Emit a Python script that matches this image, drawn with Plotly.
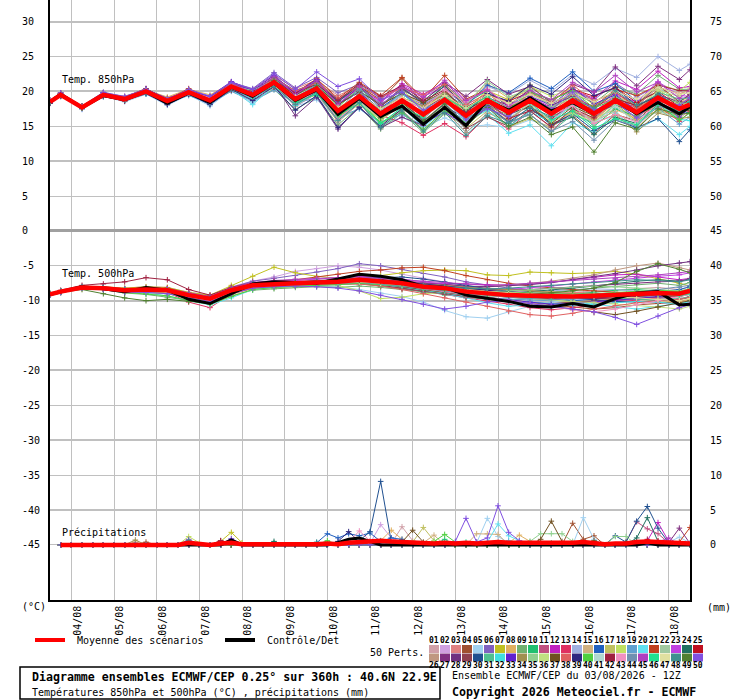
import pandas as pd
import plotly.graph_objects as go

# ECMWF ensemble diagram, 40.6N 22.9E, run 03/08/2026 12Z
start = pd.Timestamp("2026-08-03 12:00")

# lead times (h) of the temperature points and of the 6h precipitation amounts
t_hours = [0, 6, 18, 30, 42, 54, 66, 78, 90, 102, 114, 126, 138, 150, 162, 174,
           186, 198, 210, 222, 234, 246, 258, 270, 282, 294, 306, 318, 330, 342, 354, 360]
p_hours = list(range(6, 361, 6))

days = ["2026-08-%02d" % d for d in range(4, 19)]
day_labels = ["%02d/08" % d for d in range(4, 19)]

left_ticks = [30, 25, 20, 15, 10, 5, 0, -5, -10, -15, -20, -25, -30, -35, -40, -45]
right_ticks = [75, 70, 65, 60, 55, 50, 45, 40, 35, 30, 25, 20, 15, 10, 5, 0]

colors = ["#d0a0a8", "#d0a0e0", "#e08080", "#a05030", "#a0d0f0", "#8060c0", "#c0c020", "#e0b060", "#70b070", "#20c070",
          "#c05080", "#c020c0", "#e03060", "#a0b0e0", "#d0b080", "#2060c0", "#c0c060", "#c0e060", "#60a0d0", "#60e0f0",
          "#c04020", "#a0c8a0", "#c040e0", "#207060", "#c01020", "#c09880", "#803080", "#703080", "#904050", "#205090",
          "#50c090", "#40e0e0", "#6020d0", "#a09050", "#90d090", "#c0e080", "#705020", "#e06060", "#302880", "#50d040",
          "#b0d8d0", "#a02040", "#f090c0", "#7090b0", "#b040c0", "#20e090", "#e0e0a0", "#409090", "#508030", "#8050e0"]

# --- temperature 850 hPa (°C)
t850_mean = [18.5, 19.5, 17.7, 19.5, 18.9, 20.0, 18.6, 19.9, 18.7, 20.7, 19.5, 21.3, 18.9, 20.4, 17.2, 19.3,
             16.8, 18.7, 16.7, 18.8, 16.5, 18.7, 17.0, 18.7, 16.8, 18.7, 16.8, 18.7, 17.0, 19.1, 17.5, 18.1]
t850_ctrl = [18.5, 19.6, 17.7, 19.4, 18.8, 20.0, 18.3, 19.8, 18.4, 20.6, 19.3, 21.2, 18.7, 20.2, 16.7, 19.0,
             16.4, 17.9, 15.3, 17.7, 15.1, 18.7, 17.3, 19.1, 17.2, 18.4, 16.8, 18.7, 16.8, 18.4, 16.8, 17.8]
t850_members = [
    [18.6, 19.7, 17.7, 19.6, 19.1, 20.3, 19.0, 20.1, 19.2, 21.0, 20.1, 21.7, 19.9, 21.0, 18.4, 20.1, 17.3, 19.6, 17.8, 19.2, 16.0, 17.9, 15.8, 18.2, 17.2, 20.0, 18.6, 19.7, 17.2, 18.5, 16.1, 17.3],
    [18.4, 19.5, 17.8, 19.3, 18.9, 19.8, 18.3, 20.0, 18.5, 20.3, 19.0, 21.0, 17.8, 19.7, 16.7, 19.6, 17.6, 19.9, 18.3, 20.8, 18.0, 19.7, 17.6, 18.3, 15.8, 17.2, 16.0, 19.2, 18.4, 21.3, 19.1, 19.1],
    [18.7, 19.6, 17.6, 19.8, 19.0, 20.2, 19.1, 20.2, 18.9, 21.3, 20.3, 22.3, 20.4, 21.6, 19.4, 20.8, 18.6, 20.7, 17.9, 19.6, 16.8, 18.2, 16.2, 17.2, 14.8, 17.1, 15.8, 18.5, 17.8, 20.6, 19.7, 20.1],
    [18.5, 19.3, 17.8, 19.5, 18.7, 19.9, 18.8, 19.7, 18.3, 20.5, 19.8, 21.8, 19.7, 21.5, 18.8, 20.7, 18.8, 21.9, 18.2, 20.8, 17.8, 19.2, 16.7, 17.9, 15.4, 16.5, 14.0, 16.7, 15.8, 18.6, 17.9, 18.9],
    [18.3, 19.4, 17.4, 19.3, 18.5, 19.6, 18.0, 19.5, 17.9, 20.2, 18.3, 20.7, 17.9, 18.8, 16.0, 17.5, 15.2, 16.3, 14.9, 16.2, 14.9, 15.2, 14.8, 15.9, 14.9, 16.7, 15.3, 17.7, 16.4, 18.9, 18.0, 19.0],
    [18.6, 19.8, 17.9, 19.9, 19.2, 20.4, 18.8, 20.2, 19.2, 21.3, 20.4, 22.7, 20.5, 22.0, 19.8, 21.0, 19.0, 20.7, 18.2, 19.8, 17.1, 18.9, 16.6, 19.0, 17.6, 20.1, 18.8, 21.2, 19.2, 20.9, 18.5, 18.7],
    [18.5, 19.6, 17.9, 19.6, 18.9, 20.1, 18.5, 20.1, 18.7, 20.4, 19.3, 20.7, 18.6, 19.5, 16.8, 18.3, 15.3, 17.5, 16.2, 19.0, 17.4, 20.1, 18.8, 20.9, 18.3, 19.5, 17.0, 18.2, 15.8, 17.3, 16.5, 17.6],
    [18.7, 19.7, 17.8, 19.7, 19.3, 20.2, 19.2, 20.3, 19.5, 21.2, 19.9, 21.5, 19.2, 20.0, 16.4, 18.1, 16.0, 18.4, 17.2, 20.0, 18.4, 21.1, 19.0, 20.1, 17.7, 18.9, 16.2, 17.4, 16.1, 18.9, 18.1, 19.5],
    [18.4, 19.3, 17.7, 19.4, 19.0, 19.7, 18.6, 19.5, 18.4, 20.1, 18.7, 20.3, 17.4, 19.2, 15.2, 17.8, 14.6, 16.9, 14.1, 16.8, 15.0, 17.9, 16.6, 18.9, 17.4, 19.8, 18.3, 20.7, 19.6, 22.3, 20.3, 20.3],
    [18.6, 19.5, 17.7, 19.6, 18.8, 20.2, 18.4, 20.0, 19.0, 21.1, 19.7, 21.8, 19.6, 20.8, 18.2, 20.1, 18.0, 20.2, 18.7, 21.0, 18.3, 20.1, 17.8, 18.9, 16.4, 17.7, 15.0, 17.5, 16.4, 19.3, 18.3, 18.5],
    [18.5, 19.6, 17.8, 19.5, 19.1, 20.0, 18.9, 19.9, 18.9, 20.6, 19.9, 21.5, 18.3, 20.4, 16.9, 19.8, 17.0, 19.5, 18.1, 19.7, 16.7, 18.1, 15.6, 16.7, 14.3, 17.1, 16.0, 18.7, 17.7, 19.3, 17.0, 18.4],
    [18.3, 19.4, 17.5, 19.5, 18.8, 19.8, 18.7, 19.8, 18.8, 20.9, 19.1, 21.1, 19.3, 21.2, 18.7, 20.4, 18.6, 21.1, 19.6, 21.3, 18.5, 20.2, 18.0, 19.2, 17.7, 20.2, 19.0, 21.5, 20.3, 22.9, 20.5, 20.7],
    [18.6, 19.4, 17.7, 19.7, 18.9, 20.1, 18.3, 19.9, 18.2, 20.5, 18.9, 20.9, 18.1, 19.9, 16.0, 18.7, 16.6, 15.5, 13.7, 15.4, 13.5, 16.5, 14.6, 17.2, 16.3, 19.0, 17.8, 19.1, 16.5, 17.9, 15.7, 17.1],
    [18.5, 19.7, 17.8, 19.6, 19.2, 20.1, 18.9, 20.1, 19.1, 20.9, 20.0, 21.6, 19.7, 20.9, 18.3, 20.2, 17.2, 19.5, 18.2, 19.8, 18.3, 20.7, 19.6, 21.6, 20.0, 22.4, 21.0, 23.3, 22.0, 25.0, 23.0, 23.9],
    [18.4, 19.5, 17.8, 19.4, 18.9, 20.1, 18.4, 19.9, 18.6, 21.0, 19.6, 21.1, 18.5, 19.6, 16.1, 18.4, 15.2, 17.4, 15.8, 18.4, 16.8, 19.5, 18.3, 19.5, 17.1, 18.4, 15.8, 17.1, 14.8, 17.5, 16.7, 17.9],
    [18.7, 19.6, 17.9, 19.8, 19.0, 20.3, 18.7, 20.1, 19.0, 20.8, 20.0, 22.0, 20.1, 21.3, 18.8, 20.6, 17.6, 19.8, 17.2, 19.6, 17.9, 20.9, 19.8, 21.9, 20.4, 22.8, 20.0, 21.1, 18.6, 19.9, 17.1, 16.9],
    [18.5, 19.4, 17.6, 19.5, 18.7, 20.0, 18.5, 19.6, 18.7, 20.5, 19.5, 21.6, 18.7, 20.6, 16.7, 19.1, 15.8, 18.1, 15.3, 17.8, 14.7, 17.2, 14.9, 16.1, 14.8, 17.3, 16.0, 18.5, 17.5, 20.3, 18.1, 18.3],
    [18.6, 19.7, 17.7, 19.7, 19.0, 20.2, 18.9, 20.0, 18.9, 21.2, 19.7, 21.9, 19.3, 21.3, 17.7, 20.6, 17.8, 20.3, 17.5, 19.9, 16.9, 19.6, 18.4, 20.7, 19.3, 20.5, 18.0, 19.3, 18.2, 21.1, 20.1, 21.3],
    [18.4, 19.3, 17.6, 19.2, 18.8, 19.6, 18.4, 19.4, 18.3, 20.0, 18.6, 20.2, 18.3, 19.1, 16.3, 17.5, 15.6, 16.7, 15.1, 17.5, 15.9, 18.9, 17.8, 19.9, 18.4, 19.7, 17.2, 18.4, 16.1, 17.6, 15.3, 16.3],
    [18.3, 19.4, 17.5, 19.4, 18.6, 19.8, 18.2, 19.6, 18.1, 20.3, 18.1, 20.8, 18.0, 19.8, 15.8, 18.5, 15.3, 17.7, 14.9, 17.3, 14.1, 16.7, 14.0, 15.2, 12.2, 15.5, 14.2, 16.9, 14.5, 16.1, 13.8, 15.0],
    [18.7, 19.8, 17.8, 19.7, 19.2, 20.4, 18.8, 20.4, 19.0, 21.3, 19.9, 22.1, 19.8, 21.8, 19.0, 21.3, 19.4, 22.0, 18.9, 22.3, 18.9, 20.3, 17.8, 18.9, 16.5, 19.2, 17.8, 20.3, 19.4, 20.9, 18.5, 19.5],
    [18.5, 19.5, 17.6, 19.6, 18.9, 20.1, 18.6, 19.8, 18.8, 20.7, 19.2, 21.4, 18.6, 20.2, 16.6, 18.9, 15.9, 18.2, 15.5, 18.1, 15.5, 18.5, 17.3, 19.6, 18.0, 19.3, 16.8, 18.0, 15.6, 17.1, 16.3, 17.5],
    [18.4, 19.6, 17.7, 19.4, 19.1, 20.0, 18.8, 20.0, 18.7, 21.0, 20.1, 21.7, 19.9, 21.1, 18.6, 20.3, 18.4, 20.9, 19.3, 20.6, 17.7, 19.3, 17.1, 18.2, 15.8, 18.3, 17.0, 19.5, 18.5, 21.4, 19.4, 19.3],
    [18.6, 19.7, 17.9, 19.6, 18.9, 20.2, 18.5, 20.2, 18.9, 21.1, 19.8, 22.0, 19.4, 21.5, 18.5, 20.9, 18.0, 20.5, 18.3, 20.8, 17.7, 19.2, 16.8, 17.7, 15.2, 16.3, 13.8, 16.3, 15.4, 18.1, 17.3, 18.7],
    [18.4, 19.3, 17.6, 19.3, 18.6, 19.8, 18.2, 19.6, 18.5, 20.2, 19.2, 20.6, 18.5, 19.6, 17.0, 18.7, 17.2, 18.8, 17.6, 19.2, 17.7, 19.5, 18.6, 19.9, 18.8, 20.3, 19.3, 20.6, 18.4, 20.0, 17.8, 18.9],
    [18.5, 19.6, 17.7, 19.6, 18.8, 20.1, 18.7, 19.9, 18.5, 20.8, 19.3, 20.9, 17.9, 19.7, 15.6, 18.3, 14.8, 17.3, 14.5, 17.3, 14.1, 16.9, 15.8, 18.2, 17.0, 19.6, 17.2, 18.5, 16.1, 18.9, 18.0, 19.2],
    [18.6, 19.5, 17.9, 19.7, 19.0, 20.3, 18.8, 20.1, 19.2, 21.0, 20.2, 21.8, 19.5, 21.4, 18.0, 20.7, 17.8, 20.3, 18.6, 21.2, 19.3, 21.7, 19.6, 20.7, 18.4, 21.0, 19.9, 23.5, 20.8, 23.6, 21.7, 23.1],
    [18.3, 19.4, 17.6, 19.5, 18.7, 19.9, 18.3, 19.7, 18.2, 20.4, 19.1, 21.1, 16.5, 19.2, 14.6, 17.8, 14.8, 16.3, 15.1, 17.8, 16.2, 19.1, 18.0, 20.3, 18.0, 19.3, 16.8, 18.1, 16.8, 19.5, 18.5, 19.6],
    [18.5, 19.6, 17.6, 19.5, 19.0, 19.9, 18.6, 20.1, 18.7, 20.9, 19.6, 21.6, 19.4, 20.7, 18.1, 19.9, 17.1, 18.5, 15.9, 17.6, 14.7, 16.3, 15.0, 17.3, 16.0, 18.5, 17.4, 19.9, 17.8, 19.3, 17.0, 17.9],
    [18.6, 19.5, 17.8, 19.4, 19.0, 20.0, 18.4, 20.0, 18.9, 20.6, 19.9, 21.5, 18.6, 21.0, 16.7, 19.5, 16.2, 18.5, 15.7, 18.3, 15.3, 17.9, 15.6, 17.7, 15.2, 16.8, 14.4, 15.9, 14.8, 16.1, 12.8, 14.5],
    [18.5, 19.6, 17.8, 19.6, 18.9, 20.2, 18.7, 20.0, 19.0, 21.1, 19.7, 21.8, 19.2, 21.2, 17.8, 20.4, 18.2, 19.7, 17.2, 18.9, 16.1, 17.8, 15.5, 16.7, 14.2, 16.7, 15.5, 18.1, 17.1, 19.9, 18.9, 19.1],
    [18.4, 19.4, 17.7, 19.3, 18.8, 19.7, 18.5, 19.7, 18.3, 20.5, 18.9, 20.9, 18.0, 19.8, 16.8, 19.5, 17.4, 19.7, 17.2, 18.6, 15.7, 17.3, 15.0, 17.1, 15.6, 18.1, 16.8, 19.3, 16.8, 18.3, 16.0, 15.8],
    [18.7, 19.7, 17.8, 19.8, 19.1, 20.3, 19.0, 20.1, 19.3, 21.4, 20.1, 22.3, 19.7, 21.7, 18.2, 19.9, 17.0, 18.1, 15.5, 17.0, 15.2, 18.0, 17.0, 19.3, 18.0, 20.5, 18.2, 19.5, 17.2, 18.6, 16.3, 17.7],
    [18.5, 19.5, 17.8, 19.5, 18.9, 19.9, 18.7, 19.9, 18.6, 20.5, 19.5, 21.0, 19.1, 19.9, 17.6, 19.1, 17.6, 19.1, 17.9, 19.6, 16.8, 18.3, 16.0, 18.3, 17.0, 18.1, 15.4, 16.7, 14.2, 16.9, 16.1, 16.3],
    [18.6, 19.5, 17.7, 19.6, 19.1, 20.1, 18.6, 20.2, 18.8, 20.9, 20.1, 21.7, 19.2, 20.6, 16.8, 19.4, 16.0, 18.3, 16.5, 19.4, 18.0, 21.5, 19.2, 20.3, 17.8, 19.1, 16.6, 19.1, 18.0, 20.7, 18.3, 18.3],
    [18.4, 19.5, 17.6, 19.5, 18.8, 20.0, 18.4, 20.0, 18.6, 20.4, 19.3, 20.8, 18.7, 19.5, 16.7, 18.1, 16.0, 18.2, 16.6, 19.2, 17.4, 19.2, 17.0, 18.1, 15.6, 16.9, 15.6, 18.2, 17.3, 20.1, 19.3, 20.5],
    [18.5, 19.6, 17.7, 19.6, 19.0, 20.2, 18.6, 20.0, 18.9, 20.8, 19.8, 21.5, 19.5, 20.8, 18.1, 20.0, 18.1, 19.7, 18.4, 20.0, 17.3, 19.0, 16.7, 17.9, 15.4, 17.8, 16.5, 19.0, 17.9, 19.5, 17.3, 17.3],
    [18.6, 19.6, 17.9, 19.5, 19.1, 20.1, 18.9, 19.9, 18.9, 21.1, 19.6, 21.9, 20.1, 21.2, 19.0, 20.7, 19.2, 20.5, 19.5, 21.0, 18.1, 19.7, 17.4, 19.7, 18.4, 20.9, 18.6, 19.9, 17.6, 19.1, 16.9, 17.9],
    [18.3, 19.3, 17.6, 19.3, 18.7, 19.7, 18.1, 19.6, 18.1, 20.3, 18.7, 20.7, 17.3, 19.4, 14.8, 17.7, 15.0, 17.5, 16.1, 18.8, 17.0, 19.7, 18.6, 20.9, 19.6, 22.1, 19.4, 20.5, 18.0, 19.3, 16.9, 18.1],
    [18.5, 19.6, 17.7, 19.6, 18.9, 20.1, 18.5, 19.9, 18.8, 20.6, 19.5, 21.5, 18.5, 20.3, 16.3, 18.7, 15.5, 17.0, 14.5, 17.2, 15.5, 18.3, 17.4, 19.9, 18.8, 20.1, 17.6, 18.9, 16.6, 18.1, 15.9, 16.9],
    [18.6, 19.6, 17.8, 19.7, 19.0, 20.2, 18.7, 20.1, 18.7, 20.9, 19.7, 21.4, 19.3, 20.9, 17.3, 19.6, 16.5, 18.7, 16.2, 18.6, 15.8, 18.4, 16.2, 18.2, 15.8, 18.1, 15.5, 17.9, 15.4, 18.0, 16.9, 17.8],
    [18.4, 19.5, 17.7, 19.4, 18.9, 19.9, 18.7, 19.7, 18.9, 20.5, 20.0, 21.5, 19.8, 21.0, 18.7, 21.1, 19.3, 20.8, 18.7, 20.2, 17.1, 18.5, 16.1, 17.2, 14.9, 17.5, 16.2, 18.9, 18.0, 20.9, 20.1, 20.1],
    [18.6, 19.7, 17.7, 19.6, 19.1, 20.0, 18.8, 20.0, 19.1, 20.8, 19.5, 21.1, 18.2, 20.0, 16.0, 18.6, 16.4, 18.9, 17.5, 20.2, 18.5, 20.3, 18.0, 19.1, 16.6, 17.9, 15.4, 16.7, 15.6, 18.3, 17.4, 18.6],
    [18.5, 19.4, 17.8, 19.5, 18.8, 20.1, 18.4, 20.0, 18.4, 20.9, 19.2, 21.6, 19.0, 21.0, 17.4, 20.2, 17.3, 19.9, 17.5, 19.0, 16.1, 17.7, 15.5, 16.7, 14.3, 15.7, 13.0, 15.9, 15.0, 17.9, 17.1, 18.5],
    [18.4, 19.6, 17.6, 19.7, 18.9, 20.2, 18.6, 20.2, 18.8, 21.2, 19.8, 22.1, 19.5, 21.6, 18.1, 20.8, 18.0, 20.6, 19.1, 21.6, 18.7, 20.2, 17.9, 20.1, 18.8, 21.3, 19.9, 22.3, 19.9, 21.3, 19.0, 20.2],
    [18.5, 19.5, 17.8, 19.5, 19.0, 20.0, 18.8, 19.9, 18.8, 20.7, 19.7, 21.1, 18.4, 19.6, 16.6, 18.3, 15.4, 17.7, 16.3, 19.1, 17.5, 19.3, 17.2, 18.4, 15.9, 17.2, 14.7, 16.1, 15.2, 18.1, 17.3, 18.5],
    [18.6, 19.5, 17.7, 19.6, 18.9, 20.1, 18.7, 19.8, 18.7, 20.8, 19.4, 21.3, 19.2, 20.5, 17.7, 19.5, 17.5, 19.1, 17.6, 19.4, 17.6, 19.5, 18.3, 19.6, 18.3, 19.8, 18.5, 20.0, 18.9, 20.6, 19.6, 19.8],
    [18.4, 19.4, 17.7, 19.4, 18.8, 19.8, 18.5, 19.8, 18.4, 20.3, 19.3, 20.7, 18.1, 19.9, 15.8, 18.4, 14.8, 17.2, 14.3, 17.0, 13.7, 16.5, 15.4, 17.7, 16.4, 18.9, 17.6, 20.1, 18.0, 19.5, 17.3, 18.4],
    [18.5, 19.6, 17.6, 19.5, 19.0, 20.0, 18.5, 20.0, 18.7, 20.8, 19.3, 21.6, 18.8, 20.8, 16.9, 19.5, 16.2, 18.4, 15.7, 18.2, 15.1, 17.7, 15.0, 16.3, 13.8, 14.9, 11.3, 15.5, 14.6, 17.5, 16.7, 16.9],
    [18.7, 19.8, 17.8, 19.8, 19.3, 20.3, 18.8, 20.3, 19.3, 21.3, 20.3, 22.5, 20.3, 22.8, 20.7, 21.8, 18.8, 19.9, 17.3, 18.8, 15.9, 17.5, 16.4, 18.7, 17.4, 19.9, 17.3, 18.5, 16.2, 18.9, 18.0, 19.1],
]

# --- temperature 500 hPa (°C)
t500_mean = [-9.1, -8.7, -8.1, -8.2, -8.5, -8.4, -8.5, -9.2, -9.7, -8.5, -7.8, -7.6, -7.5, -7.4, -7.3, -7.0,
             -7.3, -7.5, -8.0, -8.2, -8.7, -9.0, -9.2, -9.3, -9.4, -9.4, -9.3, -9.2, -9.0, -8.9, -9.0, -8.6]
t500_ctrl = [-9.1, -8.7, -8.0, -8.3, -8.7, -8.1, -8.5, -9.8, -10.4, -9.0, -7.6, -7.3, -7.4, -7.5, -6.9, -6.2,
             -6.5, -7.0, -8.0, -8.1, -9.2, -9.7, -10.1, -10.8, -10.9, -10.4, -10.9, -9.7, -8.9, -8.7, -10.6, -10.5]
t500_members = [
    [-9.0, -8.6, -8.0, -8.0, -8.3, -8.1, -8.2, -9.0, -9.4, -8.2, -7.5, -7.3, -7.2, -7.0, -6.8, -6.6, -6.9, -7.2, -7.6, -7.9, -8.3, -8.6, -8.8, -8.9, -9.0, -8.8, -8.6, -8.5, -8.3, -8.1, -8.4, -8.0],
    [-9.1, -8.6, -8.1, -8.1, -8.2, -8.0, -8.1, -8.8, -9.2, -8.0, -7.2, -6.6, -5.8, -5.4, -5.0, -5.2, -5.6, -6.2, -6.8, -7.4, -7.9, -8.2, -8.6, -8.8, -9.1, -9.4, -9.6, -9.8, -10.0, -10.3, -10.6, -10.2],
    [-9.2, -8.8, -8.2, -8.3, -8.7, -8.7, -8.9, -9.6, -10.1, -8.9, -8.1, -7.9, -7.9, -7.8, -7.8, -7.6, -7.9, -8.0, -8.4, -8.5, -8.8, -9.0, -9.1, -9.0, -8.9, -8.8, -8.9, -9.1, -9.4, -9.7, -9.9, -9.5],
    [-9.1, -8.7, -8.1, -8.3, -8.6, -8.5, -8.6, -9.3, -9.9, -8.7, -7.9, -7.8, -7.7, -7.6, -7.4, -7.2, -7.4, -7.6, -8.1, -8.5, -9.0, -9.5, -9.9, -10.3, -10.6, -10.9, -11.2, -11.0, -10.6, -10.4, -10.1, -9.8],
    [-9.0, -8.6, -8.0, -8.2, -8.5, -8.5, -8.6, -9.4, -9.8, -8.7, -8.0, -7.9, -7.8, -7.9, -8.0, -8.4, -8.9, -9.4, -10.2, -11.4, -12.3, -12.5, -11.6, -10.8, -10.2, -9.9, -9.6, -9.4, -9.2, -9.1, -9.3, -9.0],
    [-9.1, -8.7, -8.1, -8.1, -8.4, -8.3, -8.3, -8.9, -9.4, -8.1, -7.2, -6.8, -6.4, -5.9, -5.4, -4.7, -5.0, -5.5, -6.1, -6.6, -7.3, -7.8, -8.2, -8.5, -8.8, -9.0, -9.2, -9.0, -8.8, -8.6, -8.7, -8.3],
    [-9.0, -8.6, -8.0, -8.0, -8.2, -8.0, -8.1, -8.8, -9.2, -7.8, -6.5, -5.2, -6.0, -6.5, -6.8, -6.6, -6.4, -6.0, -5.7, -5.6, -5.7, -6.3, -6.4, -5.9, -6.0, -6.1, -6.0, -5.8, -6.2, -6.8, -7.5, -7.9],
    [-9.2, -8.8, -8.3, -8.4, -8.8, -8.8, -9.0, -9.7, -10.2, -9.1, -8.3, -8.2, -8.0, -7.7, -7.5, -7.3, -7.5, -7.8, -8.1, -8.1, -8.3, -8.5, -8.6, -8.9, -9.2, -9.4, -9.5, -9.7, -9.8, -10.0, -10.2, -9.8],
    [-9.1, -8.7, -8.2, -8.4, -8.9, -9.1, -9.5, -10.0, -10.4, -9.3, -8.5, -8.3, -8.1, -8.0, -8.1, -7.9, -8.1, -8.4, -8.7, -8.8, -9.1, -9.3, -9.2, -9.0, -8.8, -8.5, -8.2, -8.0, -7.7, -7.5, -7.8, -7.4],
    [-9.0, -8.6, -8.0, -8.1, -8.3, -8.2, -8.3, -9.1, -9.6, -8.4, -7.6, -7.4, -7.3, -7.3, -7.4, -7.5, -7.9, -8.3, -8.8, -9.2, -9.5, -9.8, -9.9, -9.7, -9.4, -9.0, -8.7, -8.5, -8.4, -8.6, -8.9, -8.5],
    [-9.1, -8.7, -8.1, -8.2, -8.6, -8.4, -8.5, -9.2, -9.8, -8.6, -7.8, -7.6, -7.4, -7.2, -7.0, -6.8, -7.0, -7.1, -7.4, -7.6, -8.0, -8.4, -8.9, -9.4, -9.8, -10.1, -10.3, -10.1, -9.8, -9.5, -9.2, -9.0],
    [-9.2, -8.8, -8.2, -8.2, -8.4, -8.3, -8.4, -9.0, -9.5, -8.3, -7.7, -7.5, -7.5, -7.5, -7.3, -7.1, -7.2, -7.3, -7.6, -7.5, -7.6, -7.7, -7.8, -7.6, -7.4, -7.0, -6.6, -6.3, -6.2, -6.6, -7.0, -6.8],
    [-9.1, -8.7, -8.2, -8.3, -8.7, -8.7, -8.8, -10.2, -11.0, -9.0, -8.2, -8.0, -7.8, -7.7, -7.6, -7.5, -7.8, -8.2, -8.7, -9.1, -9.6, -10.0, -10.5, -11.0, -11.3, -11.0, -10.6, -10.2, -9.9, -9.6, -9.4, -9.1],
    [-9.0, -8.6, -8.0, -8.1, -8.4, -8.3, -8.4, -9.1, -9.5, -8.3, -7.6, -7.4, -7.4, -7.3, -7.2, -7.0, -7.2, -7.4, -7.8, -8.1, -8.5, -8.8, -8.9, -8.8, -8.6, -8.4, -8.3, -8.4, -8.6, -8.8, -9.1, -8.8],
    [-9.1, -8.7, -8.1, -8.2, -8.5, -8.6, -8.8, -9.5, -9.9, -8.7, -7.9, -7.8, -7.6, -7.6, -7.5, -7.2, -7.4, -7.5, -7.8, -7.9, -8.1, -8.2, -8.3, -8.5, -8.7, -8.9, -9.2, -9.5, -9.6, -9.4, -9.2, -9.0],
    [-9.2, -8.8, -8.2, -8.3, -8.6, -8.5, -8.7, -9.3, -9.7, -8.5, -7.8, -7.6, -7.6, -7.4, -7.3, -7.1, -7.4, -7.7, -8.3, -8.6, -9.0, -9.2, -9.5, -9.7, -9.9, -10.0, -9.8, -9.5, -9.1, -8.7, -8.4, -8.0],
    [-9.1, -8.7, -8.1, -8.2, -8.5, -8.4, -8.6, -9.3, -9.8, -8.6, -7.7, -7.5, -7.3, -7.2, -7.1, -7.2, -7.6, -8.0, -8.4, -8.7, -9.0, -9.1, -9.3, -9.6, -9.9, -10.2, -10.0, -9.7, -9.5, -9.2, -9.0, -8.7],
    [-9.0, -8.6, -8.0, -8.1, -8.3, -8.2, -8.3, -9.0, -9.6, -8.4, -7.5, -7.3, -7.2, -7.4, -7.8, -8.6, -9.7, -9.5, -9.0, -8.8, -8.7, -8.9, -9.0, -9.2, -9.3, -9.5, -9.3, -9.0, -8.7, -8.5, -8.6, -8.3],
    [-9.1, -8.7, -8.1, -8.2, -8.5, -8.5, -8.6, -9.3, -9.7, -8.5, -7.7, -7.6, -7.6, -7.5, -7.5, -7.4, -7.7, -8.1, -8.6, -9.0, -9.4, -9.6, -9.8, -9.9, -10.0, -9.8, -9.5, -9.3, -9.3, -9.5, -9.8, -9.4],
    [-9.1, -8.8, -8.2, -8.4, -8.8, -8.9, -9.3, -10.0, -10.6, -9.6, -8.4, -8.1, -7.9, -7.8, -7.7, -7.5, -7.7, -8.0, -8.5, -9.0, -9.6, -10.3, -10.8, -10.6, -10.4, -10.2, -10.5, -10.9, -11.2, -10.8, -10.4, -10.0],
    [-9.0, -8.6, -8.0, -8.0, -8.3, -8.2, -8.2, -8.9, -9.4, -8.2, -7.5, -7.2, -7.0, -6.6, -6.2, -5.8, -5.6, -5.3, -5.2, -5.7, -6.4, -7.0, -7.5, -7.9, -8.2, -8.4, -8.6, -8.8, -8.9, -9.1, -9.3, -9.0],
    [-9.1, -8.7, -8.1, -8.2, -8.6, -8.5, -8.6, -9.2, -9.7, -8.6, -7.9, -7.7, -7.6, -7.6, -7.5, -7.3, -7.5, -7.8, -8.2, -8.4, -8.6, -8.8, -9.0, -9.2, -9.3, -9.2, -9.0, -8.9, -8.7, -8.6, -8.8, -8.5],
    [-9.1, -8.6, -8.0, -8.1, -8.4, -8.3, -8.4, -9.0, -9.6, -8.4, -7.6, -7.3, -7.1, -6.9, -6.7, -6.5, -6.7, -6.9, -7.3, -7.6, -8.0, -8.3, -8.4, -8.2, -7.9, -7.6, -7.3, -7.0, -6.7, -6.5, -6.3, -6.0],
    [-9.2, -8.8, -8.2, -8.3, -8.6, -8.6, -8.7, -9.4, -9.9, -8.8, -8.0, -7.8, -7.7, -7.6, -7.5, -7.4, -7.6, -7.9, -8.2, -8.4, -8.7, -8.8, -8.9, -8.7, -8.5, -8.2, -7.9, -7.5, -7.2, -7.0, -7.2, -6.9],
    [-9.1, -8.7, -8.1, -8.2, -8.5, -8.4, -8.5, -9.2, -9.8, -8.6, -7.8, -7.6, -7.5, -7.4, -7.3, -7.1, -7.3, -7.6, -8.0, -8.3, -8.8, -9.2, -9.5, -9.6, -9.7, -9.6, -9.5, -9.3, -9.1, -8.9, -8.8, -8.5],
    [-9.0, -8.6, -8.1, -8.2, -8.5, -8.4, -8.6, -9.3, -9.8, -8.6, -7.8, -7.6, -7.5, -7.6, -7.5, -7.3, -7.5, -7.7, -8.0, -8.0, -8.1, -8.0, -7.8, -7.5, -7.2, -6.8, -6.3, -5.6, -5.0, -4.6, -5.2, -5.6],
    [-9.1, -8.7, -8.1, -8.2, -8.5, -8.4, -8.5, -9.1, -9.6, -8.4, -7.6, -7.5, -7.3, -7.3, -7.2, -7.0, -7.2, -7.4, -7.7, -7.9, -8.2, -8.4, -8.5, -8.4, -8.2, -8.0, -7.8, -7.7, -7.5, -7.3, -7.2, -6.9],
    [-9.0, -8.6, -8.0, -8.1, -8.4, -8.3, -8.4, -9.1, -9.6, -8.5, -7.7, -7.4, -7.3, -7.2, -7.0, -6.9, -7.1, -7.3, -7.6, -7.7, -7.9, -8.0, -7.9, -7.7, -7.4, -7.0, -6.6, -6.1, -5.6, -5.0, -4.6, -4.4],
    [-9.2, -8.8, -8.2, -8.3, -8.6, -8.6, -8.8, -9.5, -10.0, -8.8, -8.0, -7.8, -7.7, -7.6, -7.6, -7.5, -7.8, -8.2, -8.7, -9.1, -9.5, -9.8, -10.1, -10.3, -10.4, -10.2, -10.0, -9.8, -9.6, -9.4, -9.3, -9.0],
    [-9.1, -8.7, -8.1, -8.2, -8.5, -8.5, -8.6, -9.2, -9.7, -8.5, -7.7, -7.5, -7.3, -7.2, -7.0, -6.8, -6.7, -6.6, -6.9, -7.3, -7.8, -8.3, -8.7, -9.0, -9.3, -9.6, -9.9, -10.1, -10.2, -10.0, -9.8, -9.5],
    [-9.1, -8.7, -8.1, -8.2, -8.5, -8.5, -8.6, -9.3, -9.8, -8.6, -7.8, -7.6, -7.5, -7.5, -7.4, -7.3, -7.5, -7.7, -8.0, -8.2, -8.5, -8.8, -9.0, -9.1, -9.2, -9.3, -9.4, -9.6, -9.8, -9.9, -9.7, -9.4],
    [-9.0, -8.6, -8.0, -8.1, -8.4, -8.3, -8.5, -9.2, -9.8, -8.7, -7.9, -7.7, -7.6, -7.6, -7.5, -7.4, -7.7, -8.0, -8.5, -8.9, -9.3, -9.7, -10.0, -10.2, -10.4, -10.6, -10.5, -10.3, -10.1, -10.2, -10.5, -10.1],
    [-9.1, -8.7, -8.1, -8.2, -8.4, -8.4, -8.5, -9.1, -9.6, -8.4, -7.7, -7.6, -7.5, -7.4, -7.2, -7.0, -7.2, -7.6, -8.2, -8.7, -9.2, -9.6, -9.9, -10.2, -10.5, -10.4, -10.2, -10.0, -9.7, -9.4, -9.1, -8.8],
    [-9.2, -8.8, -8.2, -8.3, -8.7, -8.7, -8.8, -9.4, -9.9, -8.7, -7.9, -7.7, -7.6, -7.5, -7.4, -7.2, -7.3, -7.4, -7.6, -7.8, -8.1, -8.3, -8.4, -8.6, -8.8, -9.0, -9.2, -9.4, -9.3, -9.1, -8.9, -8.6],
    [-9.1, -8.7, -8.1, -8.3, -8.7, -8.8, -9.0, -9.6, -10.0, -8.8, -8.0, -7.8, -7.7, -7.7, -7.6, -7.5, -7.6, -7.8, -8.1, -8.3, -8.6, -8.7, -8.6, -8.4, -8.2, -8.0, -7.9, -8.0, -8.2, -8.4, -8.6, -8.3],
    [-9.0, -8.6, -8.1, -8.2, -8.5, -8.4, -8.5, -9.2, -9.7, -8.5, -7.7, -7.5, -7.4, -7.3, -7.2, -7.1, -7.4, -7.8, -8.3, -8.6, -9.0, -9.3, -9.5, -9.6, -9.8, -10.0, -10.2, -10.4, -10.6, -10.9, -11.2, -10.8],
    [-9.1, -8.7, -8.1, -8.2, -8.6, -8.5, -8.7, -9.4, -9.9, -8.7, -7.9, -7.7, -7.6, -7.5, -7.4, -7.3, -7.6, -8.0, -8.5, -8.9, -9.3, -9.7, -10.1, -10.5, -10.9, -11.3, -11.7, -12.0, -11.5, -10.9, -10.4, -10.0],
    [-9.2, -8.8, -8.2, -8.3, -8.7, -8.6, -8.7, -9.4, -10.0, -8.9, -8.0, -7.8, -7.7, -7.7, -7.6, -7.6, -7.9, -8.4, -9.0, -9.6, -10.2, -10.8, -11.5, -12.0, -12.2, -11.8, -11.2, -10.7, -10.3, -10.0, -9.8, -9.5],
    [-9.1, -8.7, -8.1, -8.2, -8.5, -8.3, -8.4, -9.1, -9.6, -8.4, -7.6, -7.4, -7.3, -7.2, -7.1, -6.9, -7.0, -7.3, -7.7, -8.0, -8.3, -8.6, -8.8, -9.0, -9.2, -9.4, -9.6, -9.5, -9.3, -9.1, -8.9, -8.6],
    [-9.0, -8.6, -8.1, -8.3, -8.8, -9.0, -9.3, -10.0, -10.5, -9.4, -8.4, -8.1, -7.9, -7.8, -7.7, -7.5, -7.7, -7.9, -8.2, -8.4, -8.6, -8.7, -8.8, -8.9, -9.0, -9.1, -9.0, -8.8, -8.6, -8.5, -8.7, -8.4],
    [-9.1, -8.7, -8.1, -8.2, -8.5, -8.4, -8.5, -9.2, -9.7, -8.5, -7.8, -7.6, -7.5, -7.4, -7.3, -7.1, -7.3, -7.6, -8.0, -8.3, -8.7, -9.0, -9.2, -9.3, -9.3, -9.2, -9.1, -9.0, -9.0, -9.1, -9.2, -8.9],
    [-9.0, -8.5, -7.8, -7.6, -7.3, -6.7, -7.0, -8.4, -9.2, -8.1, -7.4, -7.3, -7.3, -7.2, -7.2, -7.0, -7.2, -7.5, -7.9, -8.1, -8.5, -8.8, -9.1, -9.3, -9.5, -9.6, -9.7, -9.6, -9.4, -9.2, -9.0, -8.7],
    [-9.1, -8.7, -8.1, -8.2, -8.5, -8.5, -8.6, -9.3, -9.8, -8.6, -7.8, -7.6, -7.4, -7.3, -7.3, -7.2, -7.5, -7.8, -8.3, -8.7, -9.2, -9.6, -10.0, -10.4, -10.8, -11.3, -11.6, -11.2, -10.6, -10.0, -9.5, -9.1],
    [-9.2, -8.8, -8.2, -8.3, -8.6, -8.6, -8.7, -9.4, -9.9, -8.8, -8.0, -7.8, -7.7, -7.6, -7.6, -7.4, -7.6, -7.9, -8.3, -8.6, -9.0, -9.3, -9.5, -9.7, -9.8, -9.7, -9.5, -9.2, -8.8, -8.4, -8.1, -7.8],
    [-9.0, -8.6, -8.0, -8.1, -8.3, -8.2, -8.3, -8.9, -9.4, -8.2, -7.4, -7.1, -6.9, -6.8, -6.7, -6.6, -6.8, -7.0, -7.2, -7.4, -7.6, -7.8, -7.7, -7.5, -7.3, -7.1, -6.9, -6.8, -6.6, -6.3, -6.0, -5.8],
    [-9.1, -8.7, -8.1, -8.2, -8.5, -8.5, -8.6, -9.3, -9.8, -8.6, -7.8, -7.6, -7.5, -7.5, -7.4, -7.3, -7.5, -7.8, -8.2, -8.5, -8.8, -9.1, -9.3, -9.4, -9.5, -9.4, -9.2, -9.1, -9.0, -9.1, -9.3, -9.0],
    [-9.1, -8.7, -8.2, -8.3, -8.6, -8.6, -8.8, -9.5, -10.0, -8.8, -8.0, -7.8, -7.6, -7.5, -7.4, -7.3, -7.5, -7.7, -8.0, -8.2, -8.5, -8.7, -8.9, -9.0, -9.1, -9.2, -9.3, -9.4, -9.6, -9.8, -10.0, -9.7],
    [-9.0, -8.6, -8.0, -8.1, -8.4, -8.3, -8.5, -9.1, -9.6, -8.4, -7.6, -7.4, -7.3, -7.2, -7.1, -7.0, -7.2, -7.5, -7.8, -8.0, -8.2, -8.3, -8.2, -8.0, -7.8, -7.6, -7.4, -7.2, -7.0, -7.1, -7.3, -7.0],
    [-9.1, -8.8, -8.4, -9.0, -9.6, -10.0, -9.8, -10.1, -10.3, -9.0, -7.9, -7.6, -7.4, -7.4, -7.3, -7.1, -7.3, -7.6, -8.0, -8.3, -8.7, -9.0, -9.2, -9.1, -8.9, -8.6, -8.2, -7.4, -5.8, -4.7, -5.5, -6.0],
    [-9.2, -8.8, -8.2, -8.4, -8.8, -8.8, -9.0, -9.6, -10.1, -9.0, -8.2, -8.0, -7.9, -8.0, -8.2, -8.6, -9.2, -9.8, -10.5, -11.2, -10.8, -10.2, -10.0, -10.4, -10.8, -11.2, -11.6, -12.4, -13.4, -12.2, -11.0, -10.6],
]

# --- precipitation, 6-hourly amounts (mm)
rr_mean = [0, 0, 0, 0, 0, 0, .05, .1, .1, .05, 0, 0, .3, .2, 0, .2, .3, .1, .1, 0, .1, 0, 0, 0, .1, .2, .1, .3, .4, .4,
           .6, .5, .4, .3, .3, .2, .3, .2, .3, .2, .3, .4, .3, .3, .2, .2, .3, .2, .3, .4, .2, .1, .2, .2, .4, .5, .4, .3, .2, .2]
rr_ctrl = [0, 0, 0, 0, 0, 0, 0, 0, 0, 0, 0, 0, 0, 0, 0, 0, .7, 0, 0, 0, 0, 0, 0, 0, 0, 0, .3, .8, 1.0, .5,
           0, 0, 0, 0, 0, 0, 0, 0, 0, 0, 0, 0, 0, 0, 0, 0, 0, 0, 0, 0, 0, 0, 0, 0, 0, .3, 0, 0, 0, 0]
rr_members = [
    [0, 0, 0, 0, 0, 0, 0, 0, 0, 0, 0, 0, 0, 0, 0, 0, 0, 0, 0, 0, 0, 0, 0, 0, 0, 0, 0, 0, .3, 0, 0, .2, 2.6, .6, 0, 0, 0, 0, 0, 0, 0, 0, 0, 0, 0, 0, 0, 0, 0, 0, 0, 0, 0, 0, 0, 0, 0, 0, 0, 0],
    [0, 0, 0, 0, 0, 0, 0, 0, 0, 0, 0, 0, 0, 0, 0, 0, 0, 0, 0, 0, 0, 0, 0, 0, 0, 0, 0, 0, 0, .2, 2.9, 1.0, .4, 0, 0, 0, 0, 0, 0, 0, 0, 0, 0, 0, 0, 0, 0, 0, 0, 0, 0, 0, 0, 0, 0, .3, 0, 0, 0, 0],
    [0, 0, 0, 0, 0, 0, 0, 0, 0, 0, 0, 0, 0, 0, 0, 0, 0, 0, 0, 0, 0, 0, 0, 0, 0, 0, 0, 0, 0, .5, .2, 0, 0, 0, 0, 0, 0, 0, 0, 0, 0, .4, 0, 0, 0, 0, 0, 0, 0, 0, 0, 0, 0, 0, .6, .2, 0, 0, 0, 0],
    [0, 0, 0, 0, 0, 0, 0, 0, .4, 0, 0, 0, 0, 0, 0, 0, 0, 0, 0, 0, 0, 0, 0, 0, 0, 0, 0, 0, 0, 0, 0, 0, 0, 0, 0, 0, 0, 0, 0, 0, 0, 0, 0, 0, 0, 0, 0, 0, 3.1, .8, 1.3, 0, 0, 0, 0, 0, 0, 0, 0, 0],
    [0, 0, 0, 0, 0, 0, 0, 0, 0, 0, 0, 0, 0, 0, 0, 0, 0, 0, 0, 0, 0, 0, 0, 0, 0, 0, 0, 0, 0, 0, 0, 0, 0, 0, 0, 0, 0, 0, 0, .3, 3.8, 1.2, .3, 0, 0, 0, 0, 0, 0, 3.9, .8, 0, 0, 0, 0, 0, 0, .4, 1.1, .3],
    [0, 0, 0, 0, 0, 0, 0, 0, 0, 0, 0, 0, 0, 0, 0, 0, .8, 0, 0, 0, 0, 0, 0, 0, 0, 0, 0, 0, 0, .4, 0, 0, 0, 0, 0, 0, 0, 0, 0, 0, 0, 0, 0, 0, 0, 0, 0, 0, 0, 0, 0, 0, 0, 0, 0, 0, 0, 0, 0, 0],
    [0, 0, 0, 0, 0, 0, 0, 0, 0, 0, 0, 0, 0, 0, 0, .5, 1.8, .3, 0, 0, 0, 0, 0, 0, 0, 0, 0, 0, 0, 0, 0, 0, 0, 0, 0, 0, 0, 0, 0, 0, 0, 0, 0, 0, 0, 0, 0, 0, 0, 0, 0, 0, 0, 0, 0, 0, 0, 0, 0, 0],
    [0, 0, 0, 0, 0, 0, 0, .3, 0, 0, 0, 0, 0, 0, 0, 0, 0, 0, 0, 0, 0, 0, 0, 0, 0, 0, 0, 0, 0, 0, .6, 2.1, .8, 0, 0, 0, 0, 0, 0, .4, 0, 0, .3, 1.4, .5, 0, 0, 0, 0, 0, 0, 0, 0, 0, 0, 0, 0, 0, 0, 0],
    [0, 0, 0, 0, 0, 0, 0, 0, 0, 0, 0, 0, .6, 0, 0, 0, 0, 0, 0, 0, 0, 0, 0, 0, 0, 0, 0, 0, .5, 0, 0, 0, 0, 0, 0, 0, 0, 0, 0, 0, 0, 0, 0, 0, 0, 0, 0, 0, 0, 0, 0, 0, 0, 0, 0, 0, 0, 0, 0, 0],
    [0, 0, 0, 0, 0, 0, 0, 0, 0, 0, 0, 0, 0, 0, 0, 0, 0, 0, 0, 0, .3, 0, 0, 0, 0, 0, 0, 0, 0, 0, .6, .2, 0, 0, 0, 0, .8, 0, 0, 0, 0, 0, 0, 0, 0, 0, 0, 0, 0, 0, 0, 0, 0, 0, 0, 0, 0, 0, 0, 0],
    [0, 0, 0, 0, 0, 0, 0, 0, 0, 0, 0, 0, 0, 0, 0, 0, 0, 0, 0, 0, 0, 0, 0, 0, 0, 0, 0, 0, 0, 0, 0, 0, 0, 0, 0, 0, 0, 0, 0, 0, 0, 0, 0, 0, 0, 0, 0, 0, 0, 0, 0, 0, 0, .4, 3.3, 2.3, 1.6, .3, 0, 0],
    [0, 0, 0, 0, 0, 0, 0, 0, 0, 0, 0, 0, 0, 0, 0, 0, 0, 0, 0, 0, 0, 0, 0, 0, 0, 0, 0, 0, 0, 0, 0, 0, 0, 0, 0, 0, 0, 0, 0, 0, 0, 0, 0, 0, 0, 0, 0, 0, 0, 0, 0, 0, 0, 0, 0, .6, 3.2, .5, 0, 0],
    [0, 0, 0, 0, 0, 0, 0, 0, 0, 0, 0, 0, 0, 0, 0, 0, 0, 0, 0, 0, 0, 0, 0, 0, 0, 0, 0, 0, .4, 0, 0, 0, 0, 0, 0, 0, 0, 0, 0, 0, 0, 0, 0, 0, 0, 0, 0, 0, 0, 0, 0, 0, 0, 0, 0, 0, 0, 0, 0, 0],
    [0, 0, 0, 0, 0, 0, 0, 0, 0, 0, 0, 0, 0, 0, 0, 0, 0, 0, 0, 0, 0, 0, 0, 0, 0, 0, 0, 0, 0, 0, 0, 0, 0, 0, 0, 0, 0, 0, 0, .4, 0, 0, 0, 0, 0, 0, 0, 0, 0, 0, 0, 0, 0, 0, 0, 0, 0, 0, 0, 0],
    [0, 0, 0, 0, 0, 0, 0, 0, 0, 0, 0, 0, 0, 0, 0, 0, 0, 0, 0, 0, 0, 0, 0, 0, 0, 0, 0, 0, 0, 0, 0, 0, 0, 0, .3, 1.4, 0, 0, 0, 1.6, 1.6, 1.5, 0, 0, 0, 0, 0, 0, 0, 0, 0, 0, 0, 0, 0, 0, 0, 0, 0, 0],
    [0, 0, 0, 0, 0, 0, 0, 0, 0, 0, 0, 0, 0, 0, 0, 0, 0, 0, 0, 0, 0, 0, 0, 0, .3, 1.6, 1.0, 1.6, 1.3, 1.7, .5, 1.0, .8, 0, 0, 0, 0, 0, 0, 0, 0, 0, 0, 0, 0, 0, 0, 0, 0, 0, 0, 0, 0, 0, 0, 0, 0, 0, 0, 0],
    [0, 0, 0, 0, 0, 0, 0, 0, 0, 0, 0, 0, 0, 0, 0, 0, 0, 0, 0, 0, 0, 0, 0, 0, 0, 0, 0, 0, 0, 0, 0, 0, 0, .4, 2.5, .6, 0, 0, 0, 0, 0, 0, 0, 0, 0, 0, 0, 0, 0, 0, 0, 0, 0, 0, 0, 0, 0, 0, 0, 0],
    [0, 0, 0, 0, 0, 0, 0, 0, 0, 0, 0, 0, 1.2, .3, 0, 0, 0, 0, 0, 0, 0, 0, 0, 0, 0, 0, 0, 0, 0, 0, 0, 0, 0, 0, 0, 0, 0, 0, 0, 0, 0, 0, 0, 0, 0, 0, 0, 0, 0, 0, 0, 0, 0, 0, 0, 0, 0, 0, 0, 0],
    [0, 0, 0, 0, 0, 0, 0, 0, 0, 0, 0, 0, 0, 0, 0, 0, 0, 0, 0, 0, 0, 0, 0, 0, 0, 0, 0, 0, 0, .5, 0, 0, 0, 0, 0, 0, 0, 0, 0, 0, 0, 0, .6, 0, 0, 0, 0, 0, 0, 0, 0, 0, 0, 0, 0, 0, 0, 0, 0, 0],
    [0, 0, 0, 0, 0, 0, 0, 0, 0, 0, 0, 0, 0, 0, 0, 0, 0, 0, 0, 0, 0, 0, 0, 0, 0, 0, 0, 0, 0, 0, 0, 0, 0, 0, 0, 0, 0, 0, 0, 0, .4, 3.0, 1.3, .6, .3, 0, 0, 0, 0, 0, 0, 0, 0, 0, 0, 0, 0, 0, 0, 0],
    [0, 0, 0, 0, 0, 0, 0, 0, 0, 0, 0, 0, 0, 0, 0, 0, 0, 0, 0, 0, 0, 0, 0, 0, 0, 0, 0, 0, 0, 0, 0, 0, 0, 0, 0, 0, 0, 0, 0, 0, 0, 0, 0, 0, 0, 0, 0, 0, 0, 0, 0, 0, 0, 0, 0, 0, 0, 0, .4, 2.5],
    [0, 0, 0, 0, 0, 0, 0, 0, 0, 0, 0, 0, 0, 0, 0, 0, 0, 0, 0, 0, 0, 0, 0, 0, 0, 0, 0, 0, 0, 0, 0, 0, 0, 0, 0, 0, 0, 0, 0, 0, 0, 0, 0, 0, 0, .5, 0, 0, 0, 0, 0, 0, 0, 0, 0, 0, 0, 0, 0, 0],
    [0, 0, 0, 0, 0, 0, 0, 0, 0, 0, 0, 0, .8, 0, 0, 0, 0, 0, 0, 0, 0, 0, 0, 0, 0, 0, 0, 0, 0, .4, 0, 0, 0, 0, 0, 0, 0, 0, 0, 0, 0, 0, 0, 0, 0, 0, 0, 0, 0, 0, 0, 0, 0, 0, 0, 0, 0, 0, 0, 0],
    [0, 0, 0, 0, 0, 0, 0, 0, 0, 0, 0, 0, 0, 0, 0, 0, 0, 0, 0, 0, .5, 0, 0, 0, 0, 0, 0, 0, 0, 0, 0, 0, 0, 0, 0, 0, 0, 0, 0, 0, 0, 0, 0, 0, 0, 0, 0, 0, 0, 0, 0, 0, 0, 0, 1.0, 3.9, .5, 0, 0, 0],
    [0, 0, 0, 0, 0, 0, 0, 0, 0, 0, 0, 0, 0, 0, 0, 0, 0, 0, 0, 0, 0, 0, 0, 0, 0, 0, 0, 0, 0, 0, 0, 0, 0, 0, 0, 0, 0, 0, 0, 0, 0, 0, 0, 0, 0, 0, 0, 0, 0, 0, 0, 0, 0, 0, 0, .4, .6, 0, 0, 0],
    [0, 0, 0, 0, 0, 0, 0, .4, 0, 0, 0, 0, 0, 0, 0, 0, 0, 0, 0, 0, 0, 0, 0, 0, 0, 0, 0, 0, 0, 0, .3, 0, 0, 0, 0, 0, 0, 0, 0, 0, 0, 0, 0, 0, 0, 0, 0, 0, 0, 0, 0, 0, 0, 0, 0, 0, 0, 0, 0, 0],
    [0, 0, 0, 0, 0, 0, 0, 0, 0, 0, 0, 0, 0, 0, 0, 0, 0, 0, 0, 0, 0, 0, 0, 0, 0, 0, 0, 0, 0, 0, 0, 0, 0, 0, 0, 0, 0, 0, 0, 0, 0, 0, 0, 0, 0, 0, 0, 0, 0, 0, 0, 0, 0, 0, 0, 0, 0, .3, 2.4, .2],
    [0, 0, 0, 0, 0, 0, 0, 0, 0, 0, 0, 0, 0, 0, 0, 0, 0, 0, 0, 0, 0, 0, 0, 0, 0, 0, 0, .3, 0, 0, 0, 0, 0, 0, 0, 0, 0, 0, 0, 0, 0, 0, 0, 0, 0, 0, 0, 0, 0, 0, 0, 0, 0, 0, 0, 0, 0, 0, 0, 0],
    [0, 0, 0, 0, 0, 0, 0, 0, 0, 0, 0, 0, 0, 0, 0, .6, 0, 0, 0, 0, 0, 0, 0, 0, 0, 0, 0, 0, 0, 0, 0, 0, 0, 0, 0, 0, 0, 0, 0, 0, 0, 0, 0, 0, 0, 0, 0, 0, 0, 0, 0, 0, 0, 0, 0, 0, 0, 0, 0, 0],
    [0, 0, 0, 0, 0, 0, 0, 0, 0, 0, 0, 0, 0, 0, 0, 0, 0, 0, 0, 0, 0, 0, 0, 0, 0, 0, 0, 0, .6, 1.9, 9.1, .4, 0, 0, 0, 0, 0, 0, 0, 0, 0, 0, 0, 0, 0, 0, 0, 0, 0, 0, 0, 0, 1.3, .4, 3.4, 5.5, 2.4, .3, 0, 0],
    [0, 0, 0, 0, 0, 0, 0, 0, 0, 0, 0, 0, 0, 0, 0, 0, 0, 0, 0, 0, 0, 0, 0, 0, 0, 0, 0, 0, .5, 0, 0, 0, 0, 0, 0, 0, 0, 0, 0, 0, 0, 0, 0, 0, 0, 0, .3, 0, 0, 0, 0, 0, 0, 0, 0, 0, 0, 0, 0, 0],
    [0, 0, 0, 0, 0, 0, 0, 0, 0, 0, 0, 0, 0, 0, 0, 0, 0, 0, 0, 0, 0, 0, 0, 0, 0, 0, 0, 0, 0, 0, 0, 0, 0, 0, 0, 0, 0, 0, 0, 0, 0, 0, 0, 0, .4, 0, 0, 0, 0, 0, 0, 0, 0, 0, 0, 0, 0, 0, 0, 0],
    [0, 0, 0, 0, 0, 0, 0, 0, 0, 0, 0, 0, 0, 0, 0, 0, .3, 0, 0, 0, 0, 0, 0, 0, 0, 0, 0, .4, 0, 0, 0, 0, 0, 0, 0, 0, 0, 0, 0, 0, 0, 0, 0, 0, 0, 0, 0, 0, 0, 0, 0, 0, 0, 0, 0, 0, 0, 0, 0, 0],
    [0, 0, 0, 0, 0, 0, 0, .7, 0, 0, 0, 0, 0, 0, 0, 0, 0, 0, 0, 0, 0, 0, 0, 0, 0, 0, 0, 0, 0, 0, 0, 0, 0, 0, 0, 0, 0, 0, 0, 0, 0, 0, 0, 0, 0, 0, 0, 0, 0, 0, 0, 0, 0, 0, 0, 0, 0, 0, 0, 0],
    [0, 0, 0, 0, 0, 0, 0, 0, 0, 0, 0, 0, 0, 0, 0, 0, 0, 0, 0, 0, 0, 0, 0, 0, 0, 0, 0, 0, 0, 0, 0, 0, 0, 0, 0, 0, 0, 0, 0, 0, 0, 0, 0, 0, .5, 1.6, 1.6, 1.6, .5, 0, 0, 0, 1.2, 1.2, 0, 0, 0, 0, 0, 0],
    [0, 0, 0, 0, 0, 0, 0, 0, 0, 0, 0, 0, .4, 0, 0, 0, 0, 0, 0, 0, 0, 0, 0, 0, 0, 0, 0, 0, 0, 0, 0, 0, 0, 0, 0, 0, 0, 0, 0, 0, 0, 0, 0, 0, 0, 0, 0, 0, 0, 0, 0, 0, 0, 0, 0, 0, 0, 0, 0, 0],
    [0, 0, 0, 0, 0, 0, 0, 0, 0, 0, 0, 0, 0, 0, 0, 0, 0, 0, 0, 0, 0, 0, 0, 0, 0, 0, 0, 0, 0, 0, 0, 0, .4, 2.1, .4, 0, 0, 0, 0, 0, 0, 0, 0, 0, 0, .8, 3.4, .5, 0, 0, .6, 0, 0, 0, 0, 0, 0, 0, 0, 0],
    [0, 0, 0, 0, 0, 0, 0, 0, 0, 0, 0, 0, 0, 0, 0, .4, 0, 0, 0, 0, 0, 0, 0, 0, 0, 0, 0, 0, 0, 0, 0, 0, 0, 0, 0, 0, 0, 0, 0, 0, 0, 0, 0, 0, 0, 0, 0, 0, 0, 0, 0, 0, 0, 0, 0, 0, 0, 0, 0, 0],
    [0, 0, 0, 0, 0, 0, 0, 0, 0, 0, 0, 0, 0, 0, 0, 0, 0, 0, 0, 0, 0, 0, 0, 0, 0, 0, .5, 1.9, .4, 0, 0, 0, 0, 0, 0, 0, 0, 0, 0, 0, 0, 0, 0, 0, 0, 0, 0, 0, 0, 0, 0, 0, 0, 0, 0, 0, 0, 0, 0, 0],
    [0, 0, 0, 0, 0, 0, 0, 0, 0, 0, 0, 0, 0, 0, 0, 0, 0, 0, 0, 0, 0, 0, 0, 0, 0, .6, 0, 0, 0, 0, 0, 0, 0, 0, 0, .5, 1.5, .4, 0, 0, 0, 0, 0, 0, 0, 0, 0, 0, 0, 0, 0, 0, 0, 0, 0, 0, 0, 0, 0, 0],
    [0, 0, 0, 0, 0, 0, 0, 0, 0, 0, 0, 0, 0, 0, 0, 0, 0, 0, 0, 0, 0, 0, 0, 0, 0, 0, 0, 0, 0, 0, 0, 0, 0, 0, 0, 0, 0, 0, 0, 0, 0, 0, 0, .3, 0, 0, 0, 0, 0, 0, 0, 0, 0, 0, 0, 0, 0, 0, 0, 0],
    [0, 0, 0, 0, 0, 0, 0, 0, 0, 0, 0, 0, 0, 0, 0, .6, 0, 0, 0, 0, 0, 0, 0, 0, 0, 0, 0, 0, 0, 0, 0, 0, 0, 0, 0, 0, 0, 0, 0, 0, 0, 0, 0, 0, 0, 0, 0, 0, 0, 0, 0, 0, 0, 0, 0, .8, 0, 0, 0, 0],
    [0, 0, 0, 0, 0, 0, 0, 0, 0, 0, 0, 0, 0, 0, 0, 0, 0, 0, 0, 0, 0, 0, 0, 0, 0, 0, 0, .4, 2.0, .6, 0, .5, 0, 0, 0, 0, 0, 0, 0, 0, 0, 0, 0, 0, 0, 0, 0, 0, 0, 0, 0, 0, 0, 0, 0, 0, 0, 0, 0, 0],
    [0, 0, 0, 0, 0, 0, 0, 0, 0, 0, 0, 0, 0, 0, 0, 0, 0, 0, 0, 0, 0, 0, 0, 0, 0, 0, 0, 0, 0, 0, .5, 0, 0, 0, 0, 0, 0, 0, 0, 0, 0, 0, 0, 0, 0, 0, 0, 0, 0, 0, 0, 0, 0, 0, 0, 0, 0, 0, 0, 0],
    [0, 0, 0, 0, 0, 0, 0, 0, 0, 0, 0, 0, 0, 0, 0, 0, 0, 0, 0, 0, 0, 0, 0, 0, 0, 0, 0, 0, 0, 0, 0, 0, 0, 0, 0, 0, 0, 0, 0, 0, 0, 0, 0, 0, 0, 0, 0, 0, 0, 0, 0, 0, 0, 0, 0, 0, .4, 1.0, 0, 0],
    [0, 0, 0, 0, 0, 0, 0, 0, 0, 0, 0, 0, 0, 0, 0, 0, .5, 0, 0, 0, 0, 0, 0, 0, 0, 0, 0, 0, 0, 0, 0, 0, 0, 0, 0, 0, 0, 0, .4, 0, 0, 0, 0, 0, 0, 0, 0, 0, 0, 0, 0, 0, 0, 0, 0, 0, 0, 0, 0, 0],
    [0, 0, 0, 0, 0, 0, 0, 0, 0, 0, 0, 0, 0, 0, 0, 0, 0, 0, 0, 0, 0, 0, 0, 0, 0, 0, 0, 0, 0, 0, 0, 0, 0, 0, 0, .3, 0, 0, 0, 0, 0, 0, 0, 0, 0, 0, 0, 0, 0, 0, 0, 0, 0, 0, 0, 0, 0, 0, 0, 0],
    [0, 0, 0, 0, 0, 0, 0, 0, 0, 0, 0, 0, .7, 0, 0, 0, 0, 0, 0, 0, 0, 0, 0, 0, .4, 0, 0, 0, 0, 0, 0, 0, 0, 0, 0, 0, 0, 0, 0, 0, 0, 0, 0, 0, 0, 0, 0, 0, 0, 0, 0, 0, 0, 0, 0, 0, 0, 0, 0, 0],
    [0, 0, 0, 0, 0, 0, 0, 0, 0, 0, 0, 0, 0, 0, 0, 0, 0, 0, 0, 0, 0, 0, 0, 0, 0, 0, 0, 0, 0, 0, 0, 0, 0, 0, 0, 0, 0, 0, 0, 0, 0, 0, 0, 0, 0, 0, 0, 0, 0, 0, 0, 0, 0, .3, 0, 0, 0, 0, 0, 0],
    [0, 0, 0, 0, 0, 0, 0, 0, 0, 0, 0, 0, 0, 0, 0, 0, .9, 0, 0, 0, 0, 0, 0, 0, 0, 0, 0, 0, 0, 0, 0, 0, 0, 0, 0, 0, 0, .5, 3.8, .4, 1.0, 5.6, 1.8, .6, 0, 0, 0, 0, 0, 0, 0, 0, 0, 0, 0, 0, 0, 0, 0, 0],
]

tx = [start + pd.Timedelta(hours=h) for h in t_hours]
rx = [start + pd.Timedelta(hours=h) for h in p_hours]

MONO = "DejaVu Sans Mono"


def px(x):
    # pixel column -> paper x (plot area is 50..690)
    return (x - 50) / 640


def py(y):
    # pixel row -> paper y (plot area is 0..600)
    return (600 - y) / 600


def member(x, y, col, axis="y"):
    return go.Scatter(x=x, y=y, yaxis=axis, mode="lines+markers",
                      line=dict(color=col, width=1),
                      marker=dict(symbol="cross-thin", size=4, line=dict(color=col, width=1)),
                      hoverinfo="skip", showlegend=False)


fig = go.Figure()
for i in range(50):
    fig.add_trace(member(tx, t850_members[i], colors[i]))
for i in range(50):
    fig.add_trace(member(tx, t500_members[i], colors[i]))
for i in range(50):
    fig.add_trace(member(rx, rr_members[i], colors[i], "y2"))

for x, y, ax in [(tx, t850_ctrl, "y"), (tx, t500_ctrl, "y"), (rx, rr_ctrl, "y2")]:
    fig.add_trace(go.Scatter(x=x, y=y, yaxis=ax, mode="lines", line=dict(color="black", width=3),
                             hoverinfo="skip", showlegend=False))
for x, y, ax in [(tx, t850_mean, "y"), (tx, t500_mean, "y"), (rx, rr_mean, "y2")]:
    fig.add_trace(go.Scatter(x=x, y=y, yaxis=ax, mode="lines", line=dict(color="#ff0000", width=4.5),
                             hoverinfo="skip", showlegend=False))

ann = []
for v in left_ticks:
    ann.append(dict(x=px(20), xref="paper", y=v, yref="y", text=str(v), xanchor="left",
                    yanchor="middle", showarrow=False))
for v in right_ticks:
    ann.append(dict(x=px(708), xref="paper", y=v, yref="y2", text=str(v), xanchor="left",
                    yanchor="middle", showarrow=False))


def label(x, y, text, size=10, bold=False):
    if bold:
        text = "<b>" + text + "</b>"
    ann.append(dict(x=px(x), xref="paper", y=py(y), yref="paper", text=text, xanchor="left",
                    yanchor="middle", showarrow=False, font=dict(family=MONO, size=size, color="black")))


label(60, 80, "Temp. 850hPa")
label(60, 273, "Temp. 500hPa")
label(60, 532, "Précipitations")
label(20, 606, "(°C)")
label(705, 607, "(mm)")
label(75, 640, "Moyenne des scénarios")
label(265, 640, "Contrôle/Det")
label(368, 652, "50 Perts.")
label(30, 677, "Diagramme ensembles ECMWF/CEP 0.25° sur 360h : 40.6N 22.9E", size=11.6, bold=True)
label(30, 692, "Températures 850hPa et 500hPa (°C) , précipitations (mm)")
label(450, 675, "Ensemble ECMWF/CEP du 03/08/2026 - 12Z")
label(450, 692, "Copyright 2026 Meteociel.fr - ECMWF", size=11.6, bold=True)

shapes = [
    dict(type="line", xref="paper", yref="paper", x0=px(35), x1=px(65), y0=py(640), y1=py(640),
         line=dict(color="#ff0000", width=4)),
    dict(type="line", xref="paper", yref="paper", x0=px(225), x1=px(255), y0=py(640), y1=py(640),
         line=dict(color="black", width=4)),
    dict(type="rect", xref="paper", yref="paper", x0=px(20), x1=px(440), y0=py(667), y1=py(699),
         line=dict(color="black", width=1.5), fillcolor="rgba(0,0,0,0)"),
]
for i in range(50):
    col, row = i % 25, i // 25
    x0 = 429 + 11 * col
    y0 = 645 + 8.5 * row
    shapes.append(dict(type="rect", xref="paper", yref="paper", x0=px(x0), x1=px(x0 + 10),
                       y0=py(y0), y1=py(y0 + 8), line=dict(width=0), fillcolor=colors[i]))
    ann.append(dict(x=px(x0 + 5), xref="paper", y=py(640 if row == 0 else 665), yref="paper",
                    text="<b>%02d</b>" % (i + 1), xanchor="center", yanchor="middle", showarrow=False,
                    font=dict(family=MONO, size=8, color="black")))

fig.update_layout(
    width=740, height=700,
    margin=dict(l=50, r=50, t=0, b=100),
    paper_bgcolor="white", plot_bgcolor="white",
    showlegend=False, hovermode=False,
    font=dict(family=MONO, size=10, color="black"),
    xaxis=dict(type="date", range=[tx[0], tx[-1]], tickvals=days, ticktext=day_labels,
               tickangle=-90, ticks="", showgrid=True, gridcolor="#c0c0c0", gridwidth=1,
               showline=True, linecolor="black", linewidth=1.5, zeroline=False,
               ticklabelshift=6, ticklabelstandoff=0,
               tickfont=dict(family=MONO, size=10, color="black")),
    yaxis=dict(range=[-52.9, 33.1], tickvals=[30, 20, 10, 0, -10, -20, -30, -40],
               showticklabels=False, ticks="", showgrid=True, gridcolor="#c0c0c0", gridwidth=2,
               minor=dict(tickvals=[25, 15, 5, -5, -15, -25, -35, -45], showgrid=True,
                          gridcolor="#c0c0c0", gridwidth=1, ticks=""),
               zeroline=True, zerolinecolor="#a0a0a0", zerolinewidth=3,
               showline=True, linecolor="black", linewidth=1.5),
    yaxis2=dict(range=[-7.9, 78.1], overlaying="y", side="right", showgrid=False, zeroline=False,
                showticklabels=False, ticks="", showline=True, linecolor="black", linewidth=1.5),
    annotations=ann,
    shapes=shapes,
)

# the page must start at the very corner of the window, without the tool bar
fig.write_html("out.html", config={"displayModeBar": False},
               post_script="document.body.style.margin='0';")
